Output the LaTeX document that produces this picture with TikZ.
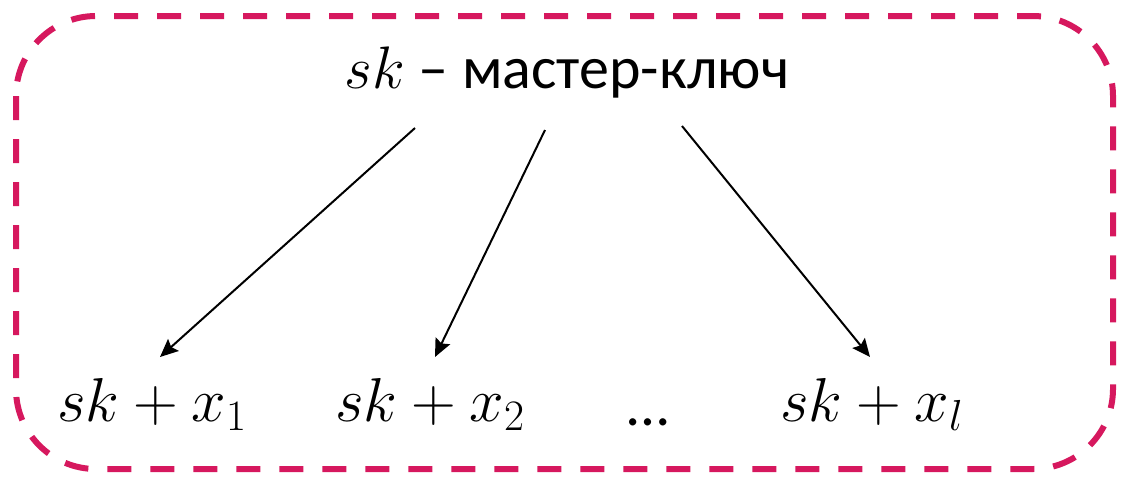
\RequirePackage{fix-cm}
\documentclass[tikz,border=0pt]{standalone}
\usepackage[no-math]{fontspec}
\setmainfont{Carlito}
\usepackage{xcolor}
\usetikzlibrary{arrows.meta}
\definecolor{keyborder}{RGB}{214,24,94}

\begin{document}
\begin{tikzpicture}[
  x=0.5pt, y=-0.5pt,
  keytext/.style={inner sep=0pt, font=\fontsize{30}{36}\selectfont},
  mathtext/.style={keytext, font=\fontsize{31}{38}\selectfont},
  keyarrow/.style={-{Stealth[length=9pt,width=8pt,inset=1.5pt]}, line width=1pt},
  keyframe/.style={draw=keyborder, line width=3pt, dash pattern=on 12pt off 9.5pt,
                   rounded corners=40pt}
]
\useasboundingbox (0,0) rectangle (1128,478);
\draw[keyframe] (16,16) rectangle (1113,469);

% master key and derived keys
\node[keytext, anchor=base] (master) at (567,88) {$sk$ – мастер-ключ};
\node[mathtext, anchor=base] (key1) at (152,421) {$sk+x_1$};
\node[mathtext, anchor=base] (key2) at (430,421) {$sk+x_2$};
\node[keytext, anchor=base] (dots) at (648,425) {…};
\node[mathtext, anchor=base] (keyl) at (872,421) {$sk+x_l$};

% arrow ends
\coordinate (from1) at (415,128);
\coordinate (from2) at (545,130);
\coordinate (from3) at (682,126);
\coordinate (to1) at (160,357);
\coordinate (to2) at (435,357);
\coordinate (to3) at (870,357);

\draw[keyarrow] (from1) -- (to1);
\draw[keyarrow] (from2) -- (to2);
\draw[keyarrow] (from3) -- (to3);
\end{tikzpicture}
\end{document}
